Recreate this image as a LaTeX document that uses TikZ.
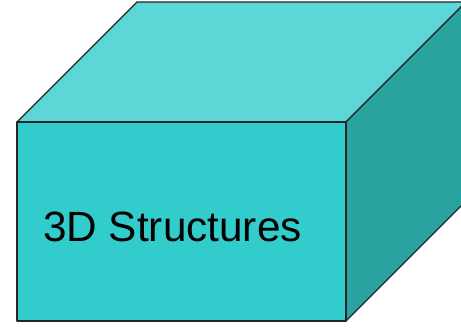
\documentclass[tikz,border=0pt]{standalone}
\usepackage{fontspec}
\setmainfont{Liberation Sans}
\definecolor{frontc}{RGB}{51,204,204}
\definecolor{topc}{RGB}{92,214,214}
\definecolor{sidec}{RGB}{41,163,160}
\tikzset{
	face/.style={draw=black!85,line width=1.3pt,line join=round,fill=#1},
	lbl/.style={inner sep=0pt,anchor=base west,font=\fontsize{42.3}{46}\selectfont}
}
\begin{document}
\begin{tikzpicture}[x=1pt,y=1pt]
	\useasboundingbox (0,0) rectangle (461,332);
	\clip (0,0) rectangle (461,332);
	\coordinate (fbl) at (17,11);
	\coordinate (fbr) at (346,11);
	\coordinate (ftr) at (346,210);
	\coordinate (ftl) at (17,210);
	\coordinate (btl) at (137,330);
	\coordinate (btr) at (466,330);
	\coordinate (bbr) at (466,131);

	\draw [face=topc] (ftl) -- (btl) -- (btr) -- (ftr) -- cycle;
	\draw [face=sidec] (ftr) -- (btr) -- (bbr) -- (fbr) -- cycle;
	\draw [face=frontc] (fbl) rectangle (ftr);
	\node [lbl] (title) at (43,90) {3D Structures};
\end{tikzpicture}
\end{document}
